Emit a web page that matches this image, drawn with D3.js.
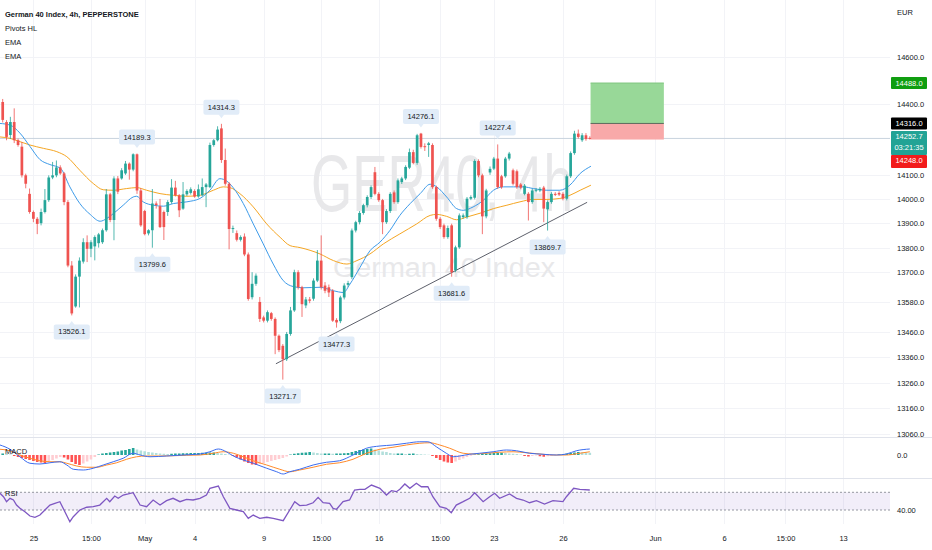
<!DOCTYPE html>
<html>
<head>
<meta charset="utf-8">
<script src="https://cdn.jsdelivr.net/npm/d3@7"></script>
<style>
  html, body { margin: 0; padding: 0; background: #fff; }
  svg { display: block; font-family: "Liberation Sans", Arial, sans-serif; }
</style>
</head>
<body>
<svg id="chart" width="932" height="550"></svg>
<script>
// 4h candles, one entry per bar (bar 0 = first visible bar)
const candleOpen = [
  14407,14322,14267,14322,14245,14218,14098,14021,13946,13918,
  13900,13946,13995,14089,14098,14131,14106,13987,13727,13562,
  13682,13743,13822,13795,13805,13818,13822,13871,14019,13913,
  14085,14085,14106,14147,14122,14186,14035,13950,13858,13871,
  13981,13970,13946,13946,13987,14047,14015,13960,14019,14025,
  14033,14010,14015,14049,14049,14225,14245,14295,14162,14063,
  13876,13859,13832,13845,13772,13599,13653,13580,13518,13505,
  13535,13512,13445,13405,13352,13452,13546,13700,13639,13566,
  13590,13593,13666,13747,13646,13639,13625,13508,13503,13598,
  13649,13680,13870,13904,13942,13974,14008,14111,14021,13995,
  13904,13950,14027,13987,14070,14085,14130,14195,14150,14273,
  14220,14225,14225,14049,13918,13891,13843,13891,13708,13801,
  13925,13925,14001,14005,14158,14098,13928,14110,14126,14168,
  14094,14094,14168,14119,14115,14060,14021,14021,13987,14035,
  14035,14047,13957,13987,14021,14025,14021,14001,14094,14191,
  14273,14245,14266,14255
];
const candleHigh = [
  14420,14330,14344,14380,14252,14238,14105,14043,13952,13925,
  13960,14041,14098,14154,14160,14140,14112,13995,13745,13691,
  13760,13838,13850,13830,13850,13860,13878,14041,14025,14094,
  14095,14128,14158,14152,14190,14189.3,14045,13955,13875,14041,
  13990,14000,13952,13995,14082,14075,14020,14070,14040,14048,
  14040,14060,14085,14066,14235,14250,14304,14314.3,14210,14070,
  13890,13870,13850,13858,13780,13700,13695,13600,13525,13546,
  13540,13518,13450,13412,13460,13560,13710,13708,13645,13600,
  13600,13675,13790,13850,13660,13650,13632,13515,13605,13655,
  13665,13878,13910,13950,13980,14015,14056,14133,14028,14000,
  13958,14028,14035,14085,14092,14140,14210,14205,14272,14276.1,
  14232,14238,14232,14055,13925,13898,13890,13898,13808,13940,
  13940,14008,14015,14165,14165,14105,14042,14135,14175,14227.4,
  14100,14175,14196,14126,14122,14066,14062,14028,14042,14045,
  14049,14054,13994,14028,14028,14032,14028,14101,14198,14285,
  14290,14275,14275,14262
];
const candleLow = [
  14320,14245,14250,14233,14218,14089,14044,13939,13904,13855,
  13891,13940,13988,14082,14090,14100,13974,13720,13526.1,13557,
  13558,13735,13741,13761,13748,13800,13815,13865,13904,13830,
  14020,14080,14100,14080,14115,14021,13885,13850,13850,13799.6,
  13960,13880,13831,13930,13980,14010,13925,13955,14012,14018,
  14005,14005,14010,13966,14045,14218,14240,14150,14055,13793,
  13860,13825,13825,13765,13585,13590,13645,13500,13498,13498,
  13505,13372,13380,13271.7,13345,13445,13540,13630,13520,13555,
  13575,13585,13660,13630,13615,13600,13500,13477.3,13495,13590,
  13640,13672,13862,13895,13935,13965,14000,14015,13988,13855,
  13897,13942,13980,13980,14062,14078,14124,14144,14142,14210,
  14200,14175,14042,13910,13876,13836,13836,13681.6,13700,13795,
  13918,13918,13995,13998,14090,13855,13920,14100,14120,14042,
  14042,14088,14160,14056,14042,14040,14015,13911,13980,14028,
  14028,13904,13869.7,13980,14012,14012,13994,13994,14087,14184,
  14252,14238,14243,14248
];
const candleClose = [
  14331,14259,14322,14245,14225,14098,14063,13946,13918,13897,
  13946,13995,14089,14098,14131,14106,13987,13727,13534,13682,
  13747,13822,13795,13822,13843,13854,13871,14019,13913,14085,
  14030,14119,14147,14122,14186,14035,13891,13855,13871,13981,
  13975,13884,13884,13987,14047,14015,13953,14019,14033,14040,
  14010,14040,14049,14060,14225,14245,14290,14162,14063,13876,
  13880,13832,13843,13772,13592,13653,13686,13512,13505,13539,
  13512,13445,13388,13352,13452,13546,13700,13639,13571,13590,
  13585,13666,13747,13639,13625,13618,13505,13498,13598,13646,
  13656,13870,13904,13942,13974,14008,14049,14021,13995,13904,
  13950,14021,13987,14077,14085,14133,14195,14150,14266,14217,
  14218,14232,14049,13918,13884,13843,13880,13700,13801,13932,
  13932,14001,14008,14158,14098,13928,14035,14125,14168,14049,
  14049,14168,14189,14063,14049,14047,14055,13987,14035,14038,
  14042,13960,13987,14021,14018,14018,14001,14094,14191,14273,
  14259,14266,14250,14252.7
];

// EMA readings as [bar, price]
const emaFast = [
  [-0.7,14316],[1.9,14309],[4.5,14275],[7.1,14219],[9.7,14164],[12.3,14143],
  [15,14128],[17.5,14050],[20.1,13981],[22.8,13936],[25.4,13908],[27.1,13919],
  [28.8,13939],[31.4,13974],[34,14008],[34.9,14011],[36.6,13988],[39.3,13974],
  [41.9,13970],[44.5,13981],[48,13988],[51.4,14002],[54,14036],[56.6,14084],
  [58.4,14074],[60.1,14046],[62.7,13981],[65.3,13897],[67.9,13815],[70.5,13733],
  [73.1,13666],[75.7,13642],[78.3,13637],[82.7,13639],[86.2,13625],[88.8,13618],
  [90.5,13652],[93.1,13719],[95.7,13787],[98.3,13822],[100.9,13870],[103.5,13932],
  [106.2,13981],[108.8,14022],[111.4,14061],[113.1,14050],[115.7,14008],[118.3,13960],
  [120,13953],[122.6,13967],[125.3,13995],[127.9,14036],[130.5,14050],[133.1,14050],
  [135.7,14050],[138.3,14043],[141.8,14036],[145.2,14036],[147.8,14057],[150.5,14106],
  [153.3,14136]
];
const emaSlow = [
  [-0.7,14259],[1.9,14253],[4.5,14239],[7.1,14225],[10.6,14211],[14.1,14197],
  [16.7,14176],[20.1,14119],[23.6,14064],[26.2,14038],[28.8,14036],[32.3,14043],
  [34.9,14047],[37.5,14036],[41,14022],[44.5,14015],[48,14011],[51.4,14015],
  [54.9,14036],[57.5,14050],[59.2,14047],[61.8,14022],[65.3,13967],[68.8,13897],
  [72.3,13842],[74.9,13808],[77.5,13800],[82.7,13774],[86.2,13747],[89.7,13733],
  [92.3,13747],[95.7,13774],[99.2,13815],[103.5,13856],[107.9,13897],[111.4,13932],
  [113.1,13936],[115.7,13928],[118.3,13914],[120.9,13925],[124.4,13941],[127.9,13960],
  [131.4,13974],[134.8,13988],[138.3,13998],[141.8,13998],[145.2,14002],[147.8,14015],
  [150.5,14036],[153.3,14057]
];

// Pivots HL labels
const pivotBars = [18, 35, 39, 57, 73, 87, 109, 117, 129, 142];
const pivotPrices = [13526.1, 14189.3, 13799.6, 14314.3, 13271.7, 13477.3, 14276.1, 13681.6, 14227.4, 13869.7];
const pivotKinds = ["L", "H", "L", "H", "L", "L", "H", "L", "H", "L"];

// drawings
const trendBars = [71.2, 152.3];
const trendPrices = [13334, 13986];
const positionBars = [153.2, 172.3];
const positionTarget = 14488;
const positionEntry = 14316;
const positionStop = 14248;
const lastPrice = 14252.7;
const countdown = "03:21:35";

// MACD pane
const macdHist = [
  6,4,2,-4,-8,-12,-16,-20,-24,-28,
  -30,-32,-26,-20,-14,-8,-10,-18,-28,-36,
  -40,-34,-26,-18,-8,2,6,8,10,12,
  14,18,20,24,28,22,18,15,12,10,
  8,6,5,4,5,6,6,7,7,8,
  8,8,9,9,10,10,8,6,4,2,
  -4,-10,-18,-26,-32,-38,-40,-36,-32,-28,
  -24,-20,-16,-12,-6,2,5,7,9,10,
  12,10,8,6,6,6,5,6,6,7,
  8,12,16,20,22,24,26,22,18,14,
  12,8,6,6,6,4,5,6,4,3,
  2,1,-4,-12,-20,-26,-30,-32,-26,-20,
  -14,-8,-3,2,3,4,6,7,8,8,
  9,8,6,5,4,2,-4,-6,-4,-2,
  -5,-7,-5,-3,-1,2,4,6,8,10,
  12,11,10,9
];
const macdLine = [
  [-0.7,40],[1.9,23],[4.5,-7],[7.1,-33],[9.7,-36],[12.3,-31],[14.9,-27],[16.7,-40],
  [18.4,-57],[21,-60],[23.6,-53],[26.2,-40],[28.8,-27],[31.4,-13],[34,7],[35.8,0],
  [38.4,-7],[42.7,-4],[47,0],[51.4,4],[54,13],[56.2,24],[58.3,13],[60.1,-4],
  [62.7,-20],[65.3,-33],[68.8,-53],[71.4,-67],[73.1,-76],[74.8,-67],[77.4,-57],
  [80.9,-40],[84.4,-29],[87.8,-23],[91.3,0],[94.8,27],[98.3,36],[101.7,40],
  [105.2,47],[108.7,53],[110.8,53],[113,33],[115.6,7],[117.4,-7],[119.1,-4],
  [121.7,3],[124.3,7],[127.8,13],[131.3,20],[133.9,17],[137.3,7],[140.8,3],
  [144.3,0],[146.9,4],[149.5,17],[153,24]
];
const signalLine = [
  [-0.7,23],[1.9,17],[4.5,0],[7.1,-13],[9.7,-23],[12.3,-27],[14.9,-27],[16.7,-33],
  [19.3,-44],[21.9,-49],[24.5,-49],[27.1,-40],[29.7,-31],[32.3,-17],[34.9,-7],
  [37.5,-4],[41,-4],[44.4,-3],[47.9,-1],[51.4,0],[54.9,7],[57.5,13],[60.1,7],
  [62.7,-7],[65.3,-23],[68.8,-40],[72.2,-57],[74.8,-67],[77.4,-60],[80.9,-49],
  [84.4,-37],[87.8,-31],[91.3,-17],[94.8,7],[98.3,23],[101.7,31],[105.2,40],
  [108.7,47],[111.3,49],[113.9,40],[116.5,27],[120,7],[122.6,4],[126,7],
  [129.5,11],[133,13],[136.5,9],[140,4],[143.4,0],[146.9,0],[150.4,7],[153,13]
];

// RSI pane
const rsiLine = [
  [-0.7,58.9],[0.2,55],[1,49.4],[1.9,53.2],[2.8,51.3],[3.6,45.6],[4.5,41.9],[5.8,38.1],
  [7.1,33.2],[8.4,31.8],[9.7,34.3],[11,40],[12.3,45.6],[13.6,47.6],[14.9,49.4],
  [16.2,38.1],[17.5,26.8],[18.4,32.4],[20.1,40],[21.9,43.1],[23.6,43.7],[25.3,45.6],
  [27.1,53.2],[27.9,49.4],[29.2,55.8],[30.1,53.2],[31.4,56.9],[32.7,58.1],[34,59.5],
  [35.8,45.6],[37.5,43.7],[39.2,51.3],[41,45.6],[42.7,50.5],[44.4,53.2],[46.2,49.4],
  [47.9,52.1],[49.6,51.3],[51.4,53.2],[53.1,56.9],[54,64.5],[56.2,67.1],[57.5,55],
  [59.2,41.9],[60.9,40],[62.7,38.1],[64,30.6],[65.3,34.3],[67,30.6],[68.8,31.8],
  [70.5,30.6],[73.1,27.9],[74.8,40],[76.1,49.4],[77.4,45],[79.2,45.6],[80.9,48.2],
  [82.2,54.3],[83.5,48.2],[85.2,47.6],[86.1,41.9],[87,40.8],[88.7,49.4],[90.4,51.3],
  [91.7,62.6],[93.1,63.4],[94.4,63.4],[96.1,68.2],[98.3,64.5],[100,56.9],[101.3,61.8],
  [102.6,60.7],[103.5,63.4],[104.8,69.4],[106.1,64.5],[107.8,70.2],[109.1,66.3],
  [110.8,66.3],[112.1,55],[113.9,43.7],[115.6,41.9],[116.9,37],[118.2,45.6],[120,49.4],
  [121.7,53.2],[123,59.5],[125.2,49.4],[126.9,55],[128.2,58.9],[129.5,53.2],[132.1,58.1],
  [133.9,53.2],[135.6,51.3],[137.3,48.2],[139.1,50.5],[141.2,46.8],[143.4,50.5],
  [146,49.4],[146.9,55],[148.8,64.5],[150.4,63.4],[153,62.6]
];
const rsiBands = [60, 40];

// axes
const priceTicks = [14600, 14400, 14100, 14000, 13900, 13800, 13700, 13580, 13460, 13360, 13260, 13160, 13060];
const timeTickBars = [8, 23, 37, 50, 68, 83, 98, 114, 128, 146, 170, 188, 204, 219];
const timeTickLabels = ["25", "15:00", "May", "4", "9", "15:00", "16", "15:00", "23", "26", "Jun", "6", "15:00", "13"];
const legendLines = ["German 40 Index, 4h, PEPPERSTONE", "Pivots HL", "EMA", "EMA"];

const GREEN = "#26a69a", RED = "#ef5350";
const TEXT = "#131722";
const FS = 7.5;
const plotRight = 890;

const svg = d3.select("#chart");

const x = d3.scaleLinear().domain([0, 153]).range([2.7, 589.8]);
const y = d3.scaleLog().domain([13060, 14600]).range([434, 57]);
const yMacd = d3.scaleLinear().domain([-88, 44]).range([477, 444]);
const yRsi = d3.scaleLinear().domain([40, 60]).range([510, 492.3]);

const defs = svg.append("defs");
function clip(id, x0, y0, w, h) {
  defs.append("clipPath").attr("id", id)
    .append("rect").attr("x", x0).attr("y", y0).attr("width", w).attr("height", h);
}
clip("clipMain", 0, 0, plotRight, 437);
clip("clipMacd", 0, 437, plotRight, 41);
clip("clipRsi", 0, 478, plotRight, 46);
clip("clipAxis", plotRight, 0, 932 - plotRight, 437);

// grid
const grid = svg.append("g").attr("stroke", "#f2f3f7").attr("stroke-width", 1);
grid.selectAll(".vg").data(timeTickBars).join("line")
  .attr("x1", d => Math.round(x(d)) + 0.5).attr("x2", d => Math.round(x(d)) + 0.5)
  .attr("y1", 0).attr("y2", 524);
grid.selectAll(".hg").data(priceTicks).join("line")
  .attr("x1", 0).attr("x2", plotRight)
  .attr("y1", d => Math.round(y(d)) + 0.5).attr("y2", d => Math.round(y(d)) + 0.5);

// pane separators
svg.append("g").attr("stroke", "#e0e3eb")
  .selectAll("line").data([437.5, 478.5]).join("line")
  .attr("x1", 0).attr("x2", 932).attr("y1", d => d).attr("y2", d => d);

// watermark
svg.append("text")
  .attr("x", 442).attr("y", 211).attr("text-anchor", "middle")
  .attr("font-size", 80).attr("fill", "#e8e8ea")
  .attr("textLength", 262).attr("lengthAdjust", "spacingAndGlyphs")
  .text("GER40, 4h");
svg.append("text")
  .attr("x", 444).attr("y", 277).attr("text-anchor", "middle")
  .attr("font-size", 27).attr("fill", "#e8e8ea")
  .attr("textLength", 222).attr("lengthAdjust", "spacingAndGlyphs")
  .text("German 40 Index");

const main = svg.append("g").attr("clip-path", "url(#clipMain)");

// last price line
main.append("line")
  .attr("x1", 0).attr("x2", plotRight)
  .attr("y1", y(lastPrice)).attr("y2", y(lastPrice))
  .attr("stroke", "#c8d3de").attr("stroke-width", 1);

// long position box
const px0 = x(positionBars[0]), px1 = x(positionBars[1]);
main.append("rect")
  .attr("x", px0).attr("y", y(positionTarget))
  .attr("width", px1 - px0).attr("height", y(positionEntry) - y(positionTarget))
  .attr("fill", "#98d898");
main.append("rect")
  .attr("x", px0).attr("y", y(positionEntry))
  .attr("width", px1 - px0).attr("height", y(positionStop) - y(positionEntry))
  .attr("fill", "#f8a9a9");
main.append("line")
  .attr("x1", px0).attr("x2", px1)
  .attr("y1", y(positionTarget)).attr("y2", y(positionTarget))
  .attr("stroke", "#7cc67c");
main.append("line")
  .attr("x1", px0).attr("x2", px1)
  .attr("y1", y(positionEntry)).attr("y2", y(positionEntry))
  .attr("stroke", "#5c6a5c");

// EMAs
const priceLine = d3.line().x(d => x(d[0])).y(d => y(d[1])).curve(d3.curveMonotoneX);
main.append("path").datum(emaSlow)
  .attr("d", priceLine).attr("fill", "none")
  .attr("stroke", "#f5a623").attr("stroke-width", 1);
main.append("path").datum(emaFast)
  .attr("d", priceLine).attr("fill", "none")
  .attr("stroke", "#3d9be9").attr("stroke-width", 1);

// trend line
main.append("line")
  .attr("x1", x(trendBars[0])).attr("y1", y(trendPrices[0]))
  .attr("x2", x(trendBars[1])).attr("y2", y(trendPrices[1]))
  .attr("stroke", "#5d606b").attr("stroke-width", 1);

// candles
const bars = main.append("g")
  .selectAll("g").data(d3.range(candleOpen.length)).join("g")
  .attr("fill", i => candleClose[i] >= candleOpen[i] ? GREEN : RED)
  .attr("stroke", i => candleClose[i] >= candleOpen[i] ? GREEN : RED);
bars.append("line")
  .attr("x1", i => x(i)).attr("x2", i => x(i))
  .attr("y1", i => y(candleHigh[i])).attr("y2", i => y(candleLow[i]))
  .attr("stroke-width", 0.8);
bars.append("rect")
  .attr("stroke", "none")
  .attr("x", i => x(i) - 1.35).attr("width", 2.7)
  .attr("y", i => y(Math.max(candleOpen[i], candleClose[i])))
  .attr("height", i => Math.max(1, Math.abs(y(candleOpen[i]) - y(candleClose[i]))));

// pivot labels
const fmt = d3.format(".1f");
const pivots = main.append("g")
  .selectAll("g").data(d3.range(pivotBars.length)).join("g")
  .attr("transform", i => `translate(${x(pivotBars[i])},${y(pivotPrices[i])})`);
pivots.append("rect")
  .attr("x", -18).attr("width", 36).attr("height", 15).attr("rx", 2)
  .attr("y", i => pivotKinds[i] === "H" ? -24 : 9)
  .attr("fill", "#e1ecf8");
pivots.append("path")
  .attr("d", i => pivotKinds[i] === "H" ? "M-3,-9.5L3,-9.5L0,-5.5Z" : "M-3,9.5L3,9.5L0,5.5Z")
  .attr("fill", "#e1ecf8");
pivots.append("text")
  .attr("text-anchor", "middle").attr("dominant-baseline", "central")
  .attr("y", i => pivotKinds[i] === "H" ? -16.5 : 16.5)
  .attr("font-size", FS).attr("fill", TEXT)
  .text(i => fmt(pivotPrices[i]));

// MACD pane
const macd = svg.append("g").attr("clip-path", "url(#clipMacd)");
macd.selectAll("rect").data(macdHist).join("rect")
  .attr("x", (d, i) => x(i) - 1.3).attr("width", 2.6)
  .attr("y", d => yMacd(Math.max(0, d)))
  .attr("height", d => Math.abs(yMacd(d) - yMacd(0)))
  .attr("fill", (d, i) => {
    const prev = i > 0 ? macdHist[i - 1] : d;
    if (d >= 0) return d >= prev ? GREEN : "#b2dfdb";
    return d <= prev ? "#ff5252" : "#ffcdd2";
  });
const macdPath = d3.line().x(d => x(d[0])).y(d => yMacd(d[1])).curve(d3.curveMonotoneX);
macd.append("path").datum(signalLine)
  .attr("d", macdPath).attr("fill", "none")
  .attr("stroke", "#ff8a2a").attr("stroke-width", 1);
macd.append("path").datum(macdLine)
  .attr("d", macdPath).attr("fill", "none")
  .attr("stroke", "#3b6cf0").attr("stroke-width", 1);
svg.append("text").attr("x", 5).attr("y", 451).attr("dominant-baseline", "central")
  .attr("font-size", FS).attr("fill", TEXT).text("MACD");

// RSI pane
const rsi = svg.append("g").attr("clip-path", "url(#clipRsi)");
rsi.append("rect")
  .attr("x", 0).attr("width", plotRight)
  .attr("y", yRsi(rsiBands[0])).attr("height", yRsi(rsiBands[1]) - yRsi(rsiBands[0]))
  .attr("fill", "#7e57c2").attr("fill-opacity", 0.1);
rsi.selectAll(".band").data(rsiBands).join("line")
  .attr("x1", 0).attr("x2", plotRight)
  .attr("y1", d => yRsi(d)).attr("y2", d => yRsi(d))
  .attr("stroke", "#9598a1").attr("stroke-dasharray", "2,2");
rsi.append("path").datum(rsiLine)
  .attr("d", d3.line().x(d => x(d[0])).y(d => yRsi(d[1])))
  .attr("fill", "none").attr("stroke", "#7e57c2").attr("stroke-width", 1.3);
svg.append("text").attr("x", 5).attr("y", 493).attr("dominant-baseline", "central")
  .attr("font-size", FS).attr("fill", TEXT).text("RSI");

// legend
svg.append("g")
  .selectAll("text").data(legendLines).join("text")
  .attr("x", 5).attr("y", (d, i) => 14 + i * 14)
  .attr("dominant-baseline", "central")
  .attr("font-size", FS).attr("fill", TEXT)
  .attr("font-weight", (d, i) => i === 0 ? 600 : 400)
  .text(d => d);

// price axis
svg.append("g").attr("clip-path", "url(#clipAxis)")
  .append("g").attr("transform", `translate(${plotRight + 3},0)`)
  .call(d3.axisRight(y).tickValues(priceTicks).tickFormat(fmt).tickSize(0).tickPadding(4))
  .call(g => g.select(".domain").remove())
  .attr("font-size", FS).attr("font-family", null).style("color", TEXT);

svg.append("text").attr("x", 897).attr("y", 12).attr("dominant-baseline", "central")
  .attr("font-size", FS).attr("fill", TEXT).text("EUR");
svg.append("text").attr("x", 897).attr("y", yMacd(0)).attr("dominant-baseline", "central")
  .attr("font-size", FS).attr("fill", TEXT).text("0.0");
svg.append("text").attr("x", 897).attr("y", yRsi(rsiBands[1])).attr("dominant-baseline", "central")
  .attr("font-size", FS).attr("fill", TEXT).text(d3.format(".2f")(rsiBands[1]));

// price tags on the axis
function tag(top, h, fill, lines) {
  const g = svg.append("g");
  g.append("rect").attr("x", 891).attr("y", top).attr("width", 36).attr("height", h)
    .attr("rx", 1).attr("fill", fill);
  lines.forEach((t, i) => {
    g.append("text").attr("x", 909).attr("y", top + 6 + i * 10.5)
      .attr("text-anchor", "middle").attr("dominant-baseline", "central")
      .attr("font-size", FS).attr("fill", "#fff").text(t);
  });
}
tag(y(positionTarget) - 6, 12, "#109e10", [fmt(positionTarget)]);
tag(y(positionEntry) - 6, 12, "#000000", [fmt(positionEntry)]);
const lastTop = y(lastPrice) - 7.5;
tag(lastTop, 24, "#22a395", [fmt(lastPrice), countdown]);
tag(lastTop + 24, 13, "#f21b1b", [fmt(positionStop)]);

// time axis
svg.append("g").attr("transform", "translate(0,530)")
  .call(d3.axisBottom(x).tickValues(timeTickBars).tickFormat((d, i) => timeTickLabels[i]).tickSize(0).tickPadding(6))
  .call(g => g.select(".domain").remove())
  .attr("font-size", FS).attr("font-family", null).style("color", TEXT);
</script>
</body>
</html>
